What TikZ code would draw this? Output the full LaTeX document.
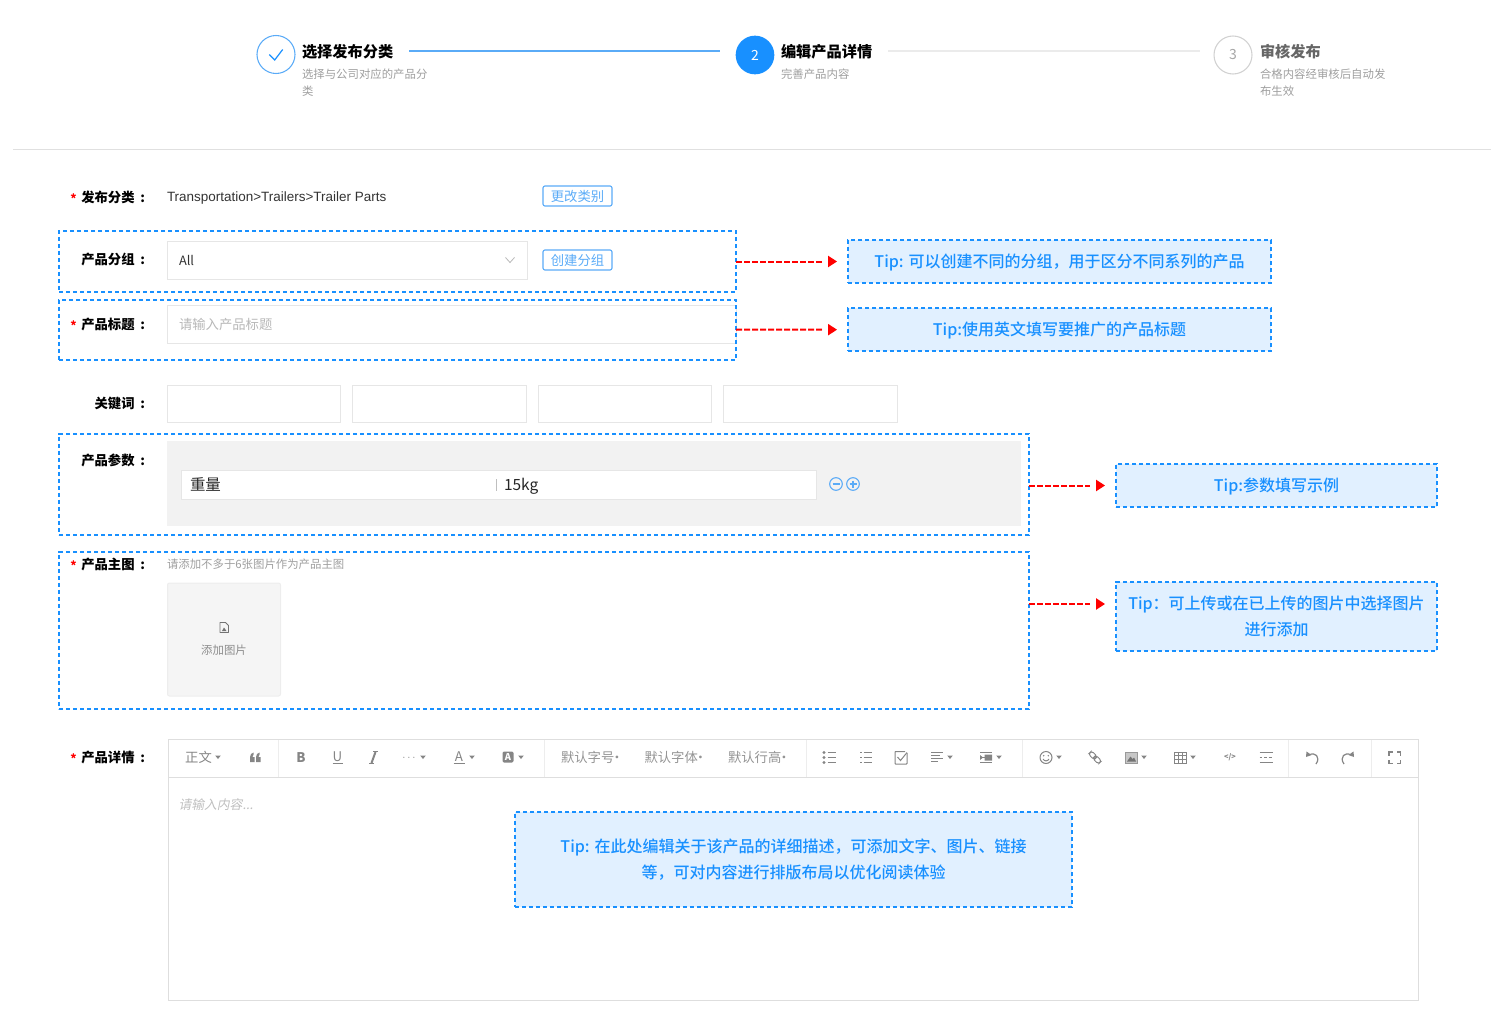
\documentclass[tikz,border=0pt]{standalone}
\usepackage{fontspec}
\setmainfont{Noto Sans CJK SC}[AutoFakeSlant=0.2]
\newfontfamily\tipfont{Noto Sans CJK SC Medium}
\newfontfamily\latinfont{Liberation Sans}
\usepackage{tikz}
\usetikzlibrary{arrows.meta}
\definecolor{tipblue}{HTML}{1890FF}
\definecolor{tipfill}{HTML}{E1F0FF}
\definecolor{stepblue}{HTML}{5AABF7}
\definecolor{hairline}{HTML}{E6E6E6}
\definecolor{iconcol}{HTML}{858585}
\tikzset{
  every node/.style={inner sep=0pt, outer sep=0pt},
  boxsize/.style 2 args={minimum width=#1*0.75pt, minimum height=#2*0.75pt},
  dashbox/.style={draw=tipblue, line width=1.5pt, dash pattern=on 3.3pt off 1.95pt},
  tipbox/.style={dashbox, fill=tipfill, text=tipblue, align=center, font=\fontsize{12}{19.5}\selectfont\tipfont},
  tipline/.style={text height=11.5pt, text depth=2.5pt},
  tiparrow/.style={draw=red, line width=1.5pt, dash pattern=on 4.6pt off 1.4pt, shorten >=8.2pt,
    -{Rectangle[white,length=4.2pt,width=3pt]Triangle[red,length=6.75pt,width=8.25pt]}},
  inputbox/.style={draw=hairline, line width=0.75pt, fill=white},
  btnbox/.style={draw=stepblue, rounded corners=1.5pt, line width=0.85pt, text=stepblue, font=\fontsize{10}{12}\selectfont},
  steptitle/.style={anchor=west, font=\fontsize{11.4}{14}\selectfont\bfseries},
  stepsub/.style={anchor=west, text=black!38, font=\fontsize{8.55}{10}\selectfont},
  rowlabel/.style={anchor=east, font=\fontsize{10}{12}\selectfont\bfseries},
  rowstar/.style={anchor=center, text=red, font=\fontsize{9}{12}\selectfont\bfseries},
  barbtn/.style={text=iconcol, font=\fontsize{10}{12}\selectfont},
  barline/.style={draw=iconcol, line width=0.75pt},
}
\newcommand{\barcaret}[1]{\fill[iconcol] (#1-2.8,755.5) -- (#1+2.8,755.5) -- (#1,759) -- cycle;}
\newcommand{\rowtext}[1]{#1\hspace{2pt} :}
\begin{document}
\begin{tikzpicture}[x=0.75pt, y=-0.75pt]
\useasboundingbox (0,0) rectangle (1500,1035);

% steps
\node[circle, draw=stepblue, line width=0.8pt, minimum size=28.5pt] (stepone) at (276,54.5) {};
\draw[tipblue, line width=0.9pt] (269.3,54.5) -- (274.7,60) -- (282.7,49.5);
\node[steptitle] (steponetitle) at (302,51.5) {选择发布分类};
\node[stepsub] (steponesub) at (302,74) {选择与公司对应的产品分};
\node[stepsub] (steponesubb) at (302,91) {类};
\node[circle, fill=tipblue, minimum size=29pt, text=white, font=\fontsize{10.5}{12}\selectfont] (steptwo) at (755,55) {2};
\node[steptitle] (steptwotitle) at (781,51.5) {编辑产品详情};
\node[stepsub] (steptwosub) at (781,74) {完善产品内容};
\node[circle, draw=black!18, line width=0.8pt, minimum size=28.5pt, text=black!35, font=\fontsize{10.5}{12}\selectfont] (stepthree) at (1233,55) {3};
\node[steptitle, text=black!60] (stepthreetitle) at (1260,51.5) {审核发布};
\node[stepsub] (stepthreesub) at (1260,74) {合格内容经审核后自动发};
\node[stepsub] (stepthreesubb) at (1260,91) {布生效};
\coordinate (lineone) at (409,51);
\coordinate (linetwo) at (720,51);
\coordinate (linethree) at (888,51);
\coordinate (linefour) at (1200,51);
\draw[stepblue, line width=0.8pt] (lineone) -- (linetwo);
\draw[black!8, line width=0.8pt] (linethree) -- (linefour);
\draw[black!12, line width=0.75pt] (13,149) -- (1491,149);

% publish category
\node[rowstar] (starcat) at (73.5,199) {*};
\node[rowlabel] (labelcat) at (145,197) {\rowtext{发布分类}};
\node[anchor=west, text=black!80, font=\fontsize{10.1}{12}\selectfont\latinfont] (valuecat) at (167,198.5) {Transportation>Trailers>Trailer Parts};
\node[btnbox, boxsize={69}{20}] (btncat) at (577.5,196) {更改类别};

% group
\node[inputbox, boxsize={360}{38}] (selectgroup) at (347,260) {};
\node[anchor=west, text=black!80, font=\fontsize{9.6}{12}\selectfont] (valuegroup) at (179,260) {All};
\draw[black!28, line width=0.6pt] (505.5,257.5) -- (510,262.5) -- (514.5,257.5);
\node[btnbox, boxsize={69}{20}] (btngroup) at (577.5,260) {创建分组};
\node[rowlabel] (labelgroup) at (145,259) {\rowtext{产品分组}};
\node[dashbox, boxsize={677}{61}] (boxgroup) at (397.5,261.5) {};
\node[tipbox, tipline, boxsize={423}{43}] (tipgroup) at (1059.5,261.5) {Tip: 可以创建不同的分组，用于区分不同系列的产品};
\draw[tiparrow] (boxgroup) -- (tipgroup);

% title
\node[inputbox, boxsize={569}{38}] (inputtitle) at (451.5,324) {};
\node[anchor=west, text=black!28, font=\fontsize{10}{12}\selectfont] (holdertitle) at (179,324) {请输入产品标题};
\node[rowstar] (startitle) at (73.5,326) {*};
\node[rowlabel] (labeltitle) at (145,324) {\rowtext{产品标题}};
\node[dashbox, boxsize={677}{60}] (boxtitle) at (397.5,330) {};
\node[tipbox, tipline, boxsize={423}{43}] (tiptitle) at (1059.5,329.5) {Tip:使用英文填写要推广的产品标题};
\draw[tiparrow] (boxtitle) -- (tiptitle);

% keywords
\node[rowlabel] (labelkey) at (145,403) {\rowtext{关键词}};
\foreach \kx/\kn in {254/a,439.5/b,625/c,810.5/d}
  \node[inputbox, boxsize={173.5}{37}] (key\kn) at (\kx,403.5) {};

% params
\fill[black!5] (167,441) rectangle (1021,526);
\node[rowlabel] (labelparam) at (145,460) {\rowtext{产品参数}};
\node[inputbox, boxsize={635}{29}] (inputparam) at (498.5,484.5) {};
\node[anchor=west, text=black!85, font=\fontsize{11.6}{14}\selectfont] (nameparam) at (190,484) {重量};
\draw[black!25, line width=0.7pt] (496,479) -- (496,491);
\node[anchor=west, text=black!85, font=\fontsize{11.6}{14}\selectfont] (valueparam) at (504,486) {15kg};
\node[circle, draw=stepblue, line width=0.8pt, minimum size=9.5pt] (minusparam) at (836,484) {};
\draw[stepblue, line width=0.8pt] (832.5,484) -- (839.5,484);
\node[circle, draw=stepblue, line width=0.8pt, minimum size=9.5pt] (plusparam) at (853,484) {};
\draw[stepblue, line width=0.8pt] (849.5,484) -- (856.5,484) (853,480.5) -- (853,487.5);
\node[dashbox, boxsize={970}{101}] (boxparam) at (544,484.5) {};
\node[tipbox, tipline, boxsize={321}{43}] (tipparam) at (1276.5,485.5) {Tip:参数填写示例};
\coordinate (fromparam) at (1029,485.5);
\draw[tiparrow] (fromparam) -- (tipparam);

% main picture
\node[rowstar] (starmain) at (73.5,566) {*};
\node[rowlabel] (labelmain) at (145,564) {\rowtext{产品主图}};
\node[stepsub] (hintmain) at (167,564) {请添加不多于6张图片作为产品主图};
\node[draw=black!7, fill=black!4, rounded corners=1.5pt, line width=0.75pt, boxsize={113}{113}] (uploadmain) at (224,639.5) {};
\draw[black!55, line width=0.7pt, line join=round] (220,622.5) -- (225.5,622.5) -- (228.5,625.5) -- (228.5,632.5) -- (220,632.5) -- cycle;
\fill[black!55] (222,631) -- (224,627.5) -- (226.5,631) -- cycle;
\node[text=black!45, font=\fontsize{8.55}{10}\selectfont] (textmain) at (224,650) {添加图片};
\node[dashbox, boxsize={970}{157}] (boxmain) at (544,630.5) {};
\node[tipbox, boxsize={321}{69}] (tipmain) at (1276.5,616.5) {Tip：可上传或在已上传的图片中选择图片\\进行添加};
\coordinate (frommain) at (1029,604);
\coordinate (tomain) at (1116,604);
\draw[tiparrow] (frommain) -- (tomain);

% editor
\node[rowstar] (stardetail) at (73.5,759) {*};
\node[rowlabel] (labeldetail) at (145,757) {\rowtext{产品详情}};
\node[draw=black!13, line width=0.75pt, boxsize={1250}{261}] (editor) at (793,869.5) {};
\draw[black!13, line width=0.75pt] (168,777.5) -- (1418,777.5);
\foreach \sx in {278,544.5,806,1022,1288.5,1371}
  \draw[black!7, line width=0.75pt] (\sx,740) -- (\sx,777);
\node[barbtn] (barstyle) at (198.5,757) {正文};
\barcaret{218}
\foreach \qx in {250,256}
  \fill[iconcol] (\qx,757) .. controls (\qx,754.5) and (\qx+1.5,753) .. (\qx+3.5,752.5) -- (\qx+3.5,754.5)
    .. controls (\qx+2.8,755) and (\qx+2.5,755.5) .. (\qx+2.5,757) -- (\qx+4.5,757) -- (\qx+4.5,762) -- (\qx,762) -- cycle;
\node[barbtn, font=\fontsize{10}{12}\selectfont\bfseries] (barbold) at (301,758) {B};
\node[barbtn] (barunder) at (337.5,756.5) {U};
\draw[barline] (332.5,763.5) -- (342.5,763.5);
\draw[iconcol, line width=1.5pt] (375.5,752) -- (371.5,763);
\draw[barline] (373,751.7) -- (378,751.7) (369,763.3) -- (374,763.3);
\node[barbtn, font=\fontsize{8}{10}\selectfont] (barmore) at (409,758) {$\cdots$};
\barcaret{423}
\node[barbtn] (barcolor) at (459,756.5) {A};
\draw[barline] (453.5,763.5) -- (464.5,763.5);
\barcaret{472}
\node[fill=iconcol, rounded corners=1pt, text=white, boxsize={11}{11}, font=\fontsize{7}{8}\selectfont\bfseries] (barback) at (508,757) {A};
\barcaret{521}
\node[barbtn, anchor=west, text=black!42] (barsize) at (561,757.5) {默认字号\hspace{-3pt}·};
\node[barbtn, anchor=west, text=black!42] (barfont) at (644.5,757.5) {默认字体\hspace{-3pt}·};
\node[barbtn, anchor=west, text=black!42] (barline) at (728,757.5) {默认行高\hspace{-3pt}·};
% list icons
\foreach \ly in {752.5,757.5,762.5} {
  \fill[iconcol] (824,\ly) circle (1.7);
  \draw[barline] (827.5,\ly) -- (836,\ly);
  \draw[barline] (860,\ly) -- (862,\ly) (863.5,\ly) -- (872,\ly);
  \draw[barline] (980,\ly) -- (992,\ly);
}
\draw[barline, rounded corners=0.5pt] (907,753) -- (907,764) -- (895,764) -- (895,751.5) -- (905,751.5);
\draw[barline] (897.5,757) -- (900.5,760.5) -- (907,752.5);
\draw[barline] (931,752.5) -- (943,752.5) (931,755.5) -- (940,755.5) (931,758.5) -- (943,758.5) (931,761.5) -- (938,761.5);
\barcaret{950}
\fill[iconcol] (980,755) -- (983,757.5) -- (980,760) -- cycle (984.5,754.5) rectangle (992,760.5);
\barcaret{999}
% insert icons
\draw[barline] (1046,757.5) circle (6);
\fill[iconcol] (1043.7,755.7) circle (0.8) (1048.3,755.7) circle (0.8);
\draw[barline] (1043,759) .. controls (1044.5,761.5) and (1047.5,761.5) .. (1049,759);
\barcaret{1059}
\begin{scope}[rotate around={-45:(1095,757.5)}]
\draw[barline, rounded corners=2pt] (1088,755.2) rectangle (1096,759.8) (1094,755.2) rectangle (1102,759.8);
\end{scope}
\draw[black!40, line width=0.75pt, fill=black!22] (1125,752) rectangle (1137.5,763.5);
\fill[black!55] (1127,761.5) -- (1130.5,756.5) -- (1132.5,759) -- (1134,757.5) -- (1136,761.5) -- cycle;
\barcaret{1144}
\foreach \gx in {1174.5,1178.5,1182.5,1186.5}
  \draw[iconcol, line width=0.55pt] (\gx,752) -- (\gx,763.5);
\foreach \gy in {752,755.8,759.6,763.5}
  \draw[iconcol, line width=0.55pt] (1174.5,\gy) -- (1186.5,\gy);
\barcaret{1193}
\node[barbtn, font=\fontsize{5.5}{7}\selectfont\bfseries] (barcode) at (1230,757.5) {</>};
\draw[barline] (1259.5,752.5) -- (1272.5,752.5) (1259.5,762.5) -- (1272.5,762.5);
\draw[barline, dash pattern=on 2.2pt off 1.2pt] (1259.5,757.5) -- (1272.5,757.5);
% undo and redo
\draw[barline, line width=0.9pt] (1309,755) .. controls (1315,751.5) and (1321,757) .. (1316,764);
\fill[iconcol] (1306,757) -- (1306.5,751.5) -- (1311.5,755) -- cycle;
\draw[barline, line width=0.9pt] (1351,755) .. controls (1345,751.5) and (1339,757) .. (1344,764);
\fill[iconcol] (1354,757) -- (1353.5,751.5) -- (1348.5,755) -- cycle;
\draw[barline, line width=1pt] (1389,755.5) -- (1389,752) -- (1392.5,752) (1397,752) -- (1400.5,752) -- (1400.5,755.5)
  (1400.5,760) -- (1400.5,763.5) -- (1397,763.5) (1392.5,763.5) -- (1389,763.5) -- (1389,760);
\node[anchor=west, text=black!25, font=\fontsize{9.6}{12}\selectfont\itshape] (holderdetail) at (178.5,804.5) {请输入内容...};
\node[tipbox, boxsize={557}{95}] (tipdetail) at (793.5,859.5) {Tip: 在此处编辑关于该产品的详细描述，可添加文字、图片、链接\\等，可对内容进行排版布局以优化阅读体验};
\end{tikzpicture}
\end{document}
